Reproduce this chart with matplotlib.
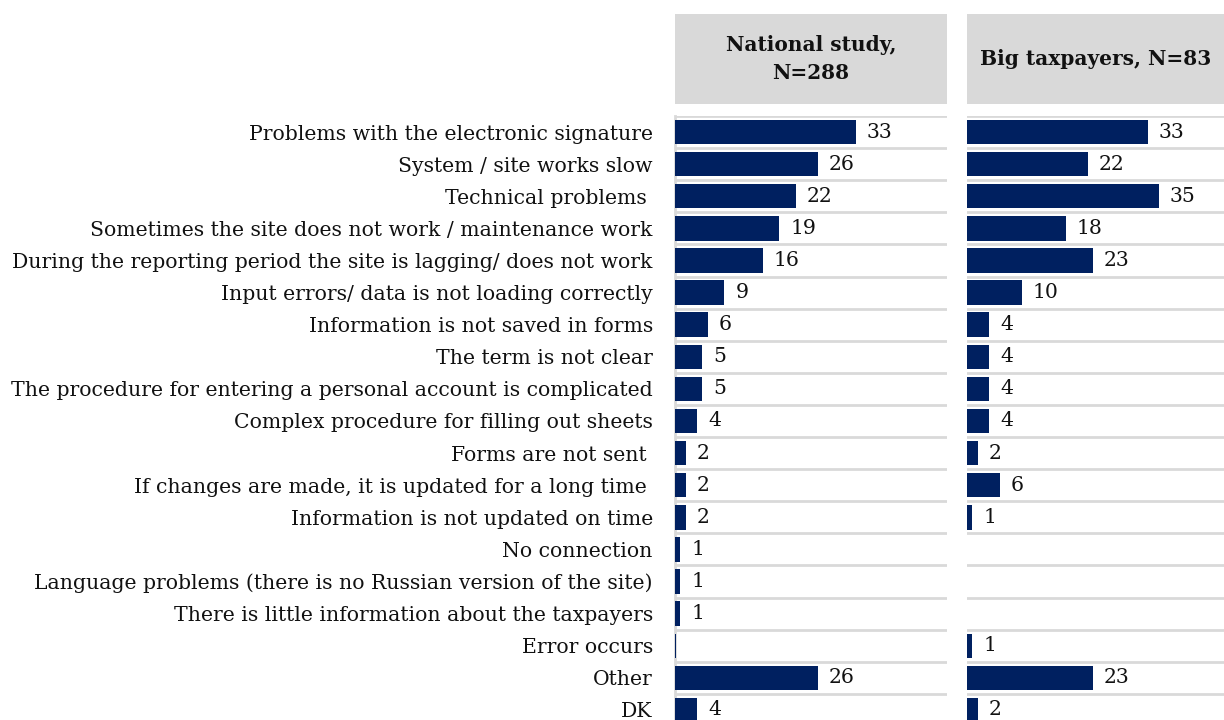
import matplotlib.pyplot as plt
from matplotlib.patches import Rectangle

categories = [
    "Problems with the electronic signature",
    "System / site works slow",
    "Technical problems ",
    "Sometimes the site does not work / maintenance work",
    "During the reporting period the site is lagging/ does not work",
    "Input errors/ data is not loading correctly",
    "Information is not saved in forms",
    "The term is not clear",
    "The procedure for entering a personal account is complicated",
    "Complex procedure for filling out sheets",
    "Forms are not sent ",
    "If changes are made, it is updated for a long time ",
    "Information is not updated on time",
    "No connection",
    "Language problems (there is no Russian version of the site)",
    "There is little information about the taxpayers",
    "Error occurs",
    "Other",
    "DK",
]
national = [33, 26, 22, 19, 16, 9, 6, 5, 5, 4, 2, 2, 2, 1, 1, 1, 0.2, 26, 4]
national_labels = ["33", "26", "22", "19", "16", "9", "6", "5", "5", "4",
                   "2", "2", "2", "1", "1", "1", "", "26", "4"]
big = [33, 22, 35, 18, 23, 10, 4, 4, 4, 4, 2, 6, 1, 0, 0, 0, 1, 23, 2]
big_labels = ["33", "22", "35", "18", "23", "10", "4", "4", "4", "4",
              "2", "6", "1", "", "", "", "1", "23", "2"]
headers = ["National study,\nN=288", "Big taxpayers, N=83"]

plt.rcParams["font.family"] = ["DejaVu Serif"]

W, H = 1224, 720
fig = plt.figure(figsize=(W / 100, H / 100), dpi=100)

NAVY = "#002060"
GRID = "#d9d9d9"
TXT = "#111111"
FS = 14.7


def px_box(x0, y0, x1, y1):
    # pixel box (top-left origin) -> figure fraction [l, b, w, h]
    return [x0 / W, 1 - y1 / H, (x1 - x0) / W, (y1 - y0) / H]


panels = [(675, 947, national, national_labels), (967, 1239, big, big_labels)]
n = len(categories)
ypos = list(range(n))

for i, (x0, x1, vals, labs) in enumerate(panels):
    ax = fig.add_axes(px_box(x0, 116, x1, 726))
    ax.barh(ypos, vals, height=0.76, color=NAVY, zorder=3)
    ax.set_xlim(0, 49.6)
    ax.set_ylim(n - 0.5, -0.5)
    for y, v, lab in zip(ypos, vals, labs):
        ax.text(v + 2.0, y, lab, va="center", ha="left",
                fontsize=FS, color=TXT, zorder=4)
    ax.set_yticks([y - 0.5 for y in ypos], minor=True)
    ax.grid(True, which="minor", axis="y", color=GRID, lw=2, zorder=1)
    ax.tick_params(which="both", length=0)
    ax.set_xticks([])
    for s in ["top", "right", "bottom"]:
        ax.spines[s].set_visible(False)
    if i == 0:
        ax.spines["left"].set_color(GRID)
        ax.spines["left"].set_linewidth(2)
        ax.set_yticks(ypos)
        ax.set_yticklabels(categories, fontsize=FS, color=TXT)
        ax.tick_params(axis="y", which="major", pad=16)
    else:
        ax.spines["left"].set_visible(False)
        ax.set_yticks([])

    right = x1 if i == 0 else 1239
    l, b, w, h = px_box(x0, 14, right, 104)
    fig.patches.append(Rectangle((l, b), w, h, transform=fig.transFigure,
                                 facecolor=GRID, edgecolor="none"))
    cx = (x0 + x1) / 2 if i == 0 else (x0 + W) / 2
    fig.text(cx / W, 1 - 59 / H, headers[i], ha="center", va="center",
             fontsize=14.5, fontweight="bold", color=TXT, linespacing=1.45)

fig.savefig("out.png", dpi=100)
